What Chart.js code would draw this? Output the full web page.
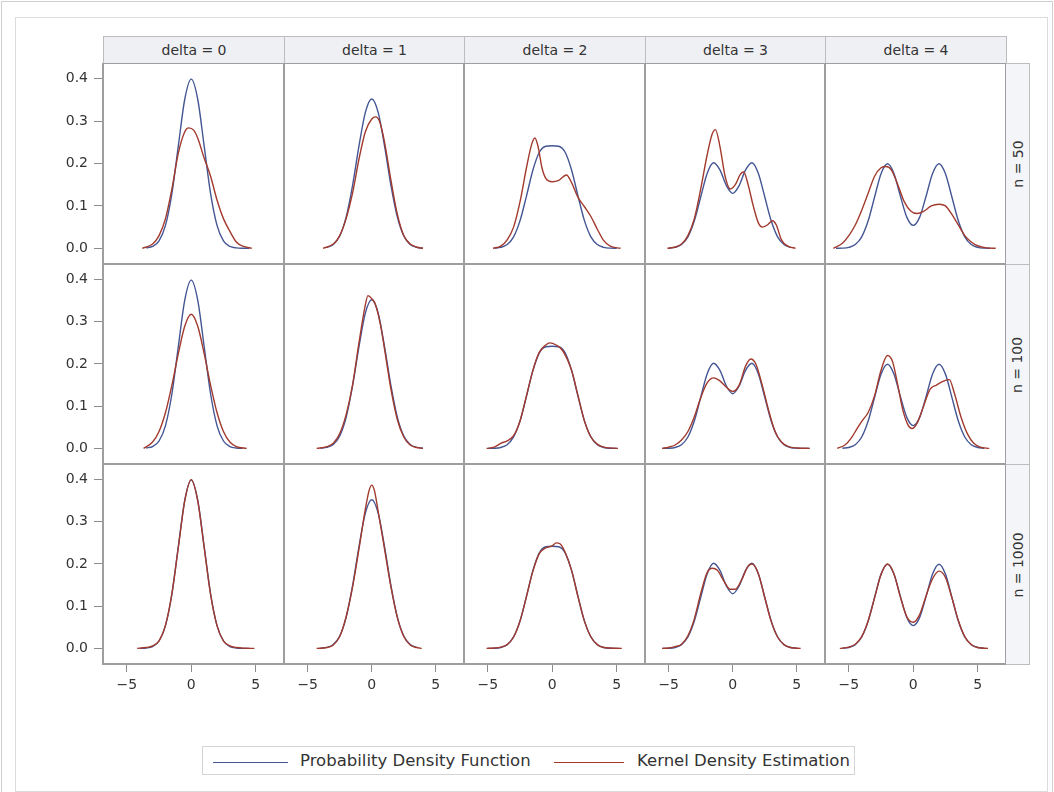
<!DOCTYPE html>
<html>
<head>
<meta charset="utf-8">
<script src="https://cdn.jsdelivr.net/npm/chart.js@4.4.1/dist/chart.umd.min.js"></script>
<style>
  html, body { margin: 0; padding: 0; background: #fff; }
  body { width: 1054px; height: 792px; position: relative; overflow: hidden;
         font-family: "DejaVu Sans", sans-serif; color: #333; }
  .box { position: absolute; box-sizing: border-box; }
  #outer { left: 1px; top: 1px; width: 1052px; height: 800px; border: 1px solid #cfcfcf; }
  #inner { left: 15px; top: 17px; width: 1033px; height: 775px; border: 1px solid #dcdcdc; }
  .strip { position: absolute; box-sizing: border-box; background: #eff0f4;
           border: 1px solid #bdbdbd; font-size: 14px; display: flex;
           align-items: center; justify-content: center; white-space: nowrap; }
  .rowlab { background: #f4f5f8; }
  .rowlab span { display: inline-block; transform: rotate(-90deg); }
  .panel { position: absolute; }
  #legend { position: absolute; left: 202px; top: 746px; width: 653px; height: 29px;
            box-sizing: border-box; border: 1px solid #d4d4d4; background: #fff; }
  .key { position: absolute; top: 15px; height: 0; }
  .ktxt { position: absolute; top: 4px; font-size: 16.5px; line-height: 20px; white-space: nowrap; }
</style>
</head>
<body>
<div id="outer" class="box"></div>
<div id="inner" class="box"></div>
<div id="legend">
  <div class="key" style="left:10px;width:75px;border-top:1.4px solid #445694"></div>
  <div class="ktxt" style="left:97px">Probability Density Function</div>
  <div class="key" style="left:351px;width:70px;border-top:1.4px solid #A23A2E"></div>
  <div class="ktxt" style="left:434px">Kernel Density Estimation</div>
</div>
<script>
// ---- facet levels and axis ticks ----
const deltas = [0, 1, 2, 3, 4];
const sampleSizes = [50, 100, 1000];
const xTickValues = [-5, 0, 5];
const yTickValues = [0, 0.1, 0.2, 0.3, 0.4];

// ---- true mixture density, one curve per delta ----
const pdfGrid = [-6.5, -6, -5.5, -5, -4.5, -4, -3.5, -3, -2.5, -2, -1.5, -1, -0.5, 0,
                 0.5, 1, 1.5, 2, 2.5, 3, 3.5, 4, 4.5, 5, 5.5, 6, 6.5];
const pdfDelta0 = [0, 0, 0, 0, 0, 0.0001, 0.0009, 0.0044, 0.0175, 0.0540, 0.1295, 0.2420, 0.3521, 0.3989,
                   0.3521, 0.2420, 0.1295, 0.0540, 0.0175, 0.0044, 0.0009, 0.0001, 0, 0, 0, 0, 0];
const pdfDelta1 = [0, 0, 0, 0, 0.0001, 0.0004, 0.0023, 0.0092, 0.0292, 0.0735, 0.1480, 0.2408, 0.3205, 0.3521,
                   0.3205, 0.2408, 0.1480, 0.0735, 0.0292, 0.0092, 0.0023, 0.0004, 0.0001, 0, 0, 0, 0];
const pdfDelta2 = [0, 0, 0, 0.0001, 0.0004, 0.0022, 0.0088, 0.0271, 0.0652, 0.1232, 0.1848, 0.2265, 0.2408, 0.2420,
                   0.2408, 0.2265, 0.1848, 0.1232, 0.0652, 0.0271, 0.0088, 0.0022, 0.0004, 0.0001, 0, 0, 0];
const pdfDelta3 = [0, 0, 0.0001, 0.0004, 0.0022, 0.0088, 0.0270, 0.0648, 0.1211, 0.1765, 0.2017, 0.1848, 0.1480, 0.1295,
                   0.1480, 0.1848, 0.2017, 0.1765, 0.1211, 0.0648, 0.0270, 0.0088, 0.0022, 0.0004, 0.0001, 0, 0];
const pdfDelta4 = [0, 0.0001, 0.0004, 0.0022, 0.0088, 0.0270, 0.0648, 0.1210, 0.1760, 0.1995, 0.1765, 0.1232, 0.0735, 0.0540,
                   0.0735, 0.1232, 0.1765, 0.1995, 0.1760, 0.1210, 0.0648, 0.0270, 0.0088, 0.0022, 0.0004, 0.0001, 0];

// ---- kernel density estimates, n = 50 ----
const n50d0x = [-3.8, -3, -2.5, -2, -1.5, -1, -0.5, -0.2, 0.2, 0.5, 1, 1.5, 2, 2.5, 3, 3.5, 4, 4.7];
const n50d0y = [0, 0.01, 0.03, 0.07, 0.14, 0.225, 0.275, 0.284, 0.278, 0.26, 0.213, 0.17, 0.114, 0.07, 0.04, 0.015, 0.005, 0];
const n50d1x = [-3.8, -3, -2.5, -2, -1.5, -1, -0.5, 0, 0.3, 0.6, 1, 1.5, 2, 2.5, 3, 3.5, 4];
const n50d1y = [0, 0.01, 0.03, 0.07, 0.13, 0.21, 0.275, 0.305, 0.31, 0.3, 0.25, 0.16, 0.08, 0.03, 0.01, 0.003, 0];
const n50d2x = [-4.6, -4, -3.5, -3, -2.5, -2, -1.6, -1.35, -1.1, -0.8, -0.5, 0, 0.5, 1.1, 1.5, 2, 2.5, 3, 3.5, 4, 4.5, 5.3];
const n50d2y = [0, 0.005, 0.02, 0.05, 0.11, 0.19, 0.245, 0.26, 0.24, 0.19, 0.165, 0.157, 0.16, 0.173, 0.155, 0.12, 0.098, 0.075, 0.045, 0.018, 0.005, 0];
const n50d3x = [-5.1, -4.5, -4, -3.5, -3, -2.5, -2, -1.6, -1.35, -1, -0.6, -0.2, 0.2, 0.6, 0.85, 1.2, 1.6, 2, 2.3, 2.7, 3.1, 3.4, 3.8, 4.3, 4.9];
const n50d3y = [0, 0.003, 0.01, 0.03, 0.07, 0.14, 0.22, 0.27, 0.28, 0.24, 0.17, 0.14, 0.15, 0.175, 0.18, 0.15, 0.1, 0.06, 0.05, 0.055, 0.065, 0.055, 0.02, 0.005, 0];
const n50d4x = [-6.2, -5.5, -5, -4.5, -4, -3.5, -3, -2.5, -2.1, -1.7, -1.2, -0.7, -0.2, 0.3, 0.8, 1.4, 2, 2.5, 3, 3.5, 4, 4.5, 5, 5.7, 6.4];
const n50d4y = [0, 0.012, 0.03, 0.055, 0.09, 0.13, 0.17, 0.19, 0.193, 0.185, 0.15, 0.11, 0.088, 0.082, 0.087, 0.1, 0.104, 0.1, 0.08, 0.055, 0.03, 0.015, 0.006, 0.001, 0];

// ---- kernel density estimates, n = 100 ----
const n100d0x = [-3.7, -3, -2.5, -2, -1.5, -1, -0.5, 0, 0.5, 1, 1.5, 2, 2.5, 3, 3.5, 4.3];
const n100d0y = [0, 0.015, 0.04, 0.085, 0.15, 0.225, 0.29, 0.318, 0.29, 0.225, 0.15, 0.085, 0.04, 0.015, 0.004, 0];
const n100d1x = [-4.3, -3.5, -3, -2.5, -2, -1.5, -1, -0.5, -0.3, 0, 0.3, 0.7, 1, 1.5, 2, 2.5, 3, 3.5, 4];
const n100d1y = [0, 0.004, 0.012, 0.035, 0.08, 0.15, 0.25, 0.34, 0.362, 0.355, 0.34, 0.29, 0.235, 0.14, 0.068, 0.027, 0.008, 0.002, 0];
const n100d2x = [-5.1, -4.5, -4, -3.5, -3, -2.5, -2, -1.5, -1, -0.5, -0.2, 0.3, 0.8, 1.5, 2, 2.5, 3, 3.5, 4, 5.1];
const n100d2y = [0, 0.003, 0.012, 0.018, 0.03, 0.065, 0.125, 0.185, 0.228, 0.245, 0.25, 0.245, 0.232, 0.185, 0.125, 0.065, 0.027, 0.01, 0.003, 0];
const n100d3x = [-5.5, -5, -4.5, -4, -3.5, -3, -2.5, -2, -1.5, -1, -0.5, 0, 0.5, 1, 1.4, 1.8, 2.3, 2.8, 3.3, 3.8, 4.3, 5, 6];
const n100d3y = [0, 0.003, 0.008, 0.02, 0.04, 0.075, 0.12, 0.155, 0.167, 0.16, 0.145, 0.135, 0.15, 0.195, 0.212, 0.2, 0.15, 0.09, 0.04, 0.015, 0.005, 0.001, 0];
const n100d4x = [-5.9, -5.3, -4.8, -4.3, -3.9, -3.5, -3, -2.5, -2, -1.6, -1.2, -0.8, -0.4, -0.1, 0.3, 0.8, 1.3, 1.8, 2.4, 2.8, 3.2, 3.7, 4.2, 4.7, 5.2, 5.9];
const n100d4y = [0, 0.008, 0.025, 0.05, 0.068, 0.085, 0.125, 0.185, 0.22, 0.205, 0.15, 0.09, 0.055, 0.047, 0.06, 0.1, 0.14, 0.15, 0.16, 0.163, 0.13, 0.075, 0.035, 0.012, 0.003, 0];

// ---- kernel density estimates, n = 1000 ----
const n1000d0x = [-4.2, -3.5, -3, -2.5, -2, -1.5, -1, -0.5, 0, 0.5, 1, 1.5, 2, 2.5, 3, 3.5, 4.2, 4.9];
const n1000d0y = [0, 0.002, 0.006, 0.018, 0.055, 0.13, 0.24, 0.35, 0.4, 0.35, 0.24, 0.128, 0.054, 0.018, 0.006, 0.002, 0.0005, 0];
const n1000d1x = [-4.3, -3.5, -3, -2.5, -2, -1.5, -1, -0.5, -0.2, 0, 0.2, 0.5, 1, 1.5, 2, 2.5, 3, 3.5, 3.9];
const n1000d1y = [0, 0.002, 0.008, 0.028, 0.075, 0.145, 0.235, 0.33, 0.375, 0.387, 0.375, 0.325, 0.235, 0.145, 0.073, 0.028, 0.008, 0.002, 0];
const n1000d2x = [-5.1, -4.5, -4, -3.5, -3, -2.5, -2, -1.5, -1, -0.5, 0, 0.3, 0.6, 1, 1.5, 2, 2.5, 3, 3.5, 4, 5.4];
const n1000d2y = [0, 0.001, 0.003, 0.009, 0.027, 0.065, 0.123, 0.183, 0.225, 0.238, 0.243, 0.25, 0.248, 0.228, 0.185, 0.122, 0.064, 0.027, 0.009, 0.002, 0];
const n1000d3x = [-5.5, -5, -4.5, -4, -3.5, -3, -2.5, -2, -1.6, -1.2, -0.7, -0.2, 0.2, 0.7, 1.2, 1.5, 2, 2.5, 3, 3.5, 4, 4.5, 5.3];
const n1000d3y = [0, 0.001, 0.004, 0.01, 0.03, 0.07, 0.13, 0.18, 0.19, 0.185, 0.16, 0.14, 0.14, 0.163, 0.195, 0.2, 0.177, 0.12, 0.064, 0.027, 0.009, 0.002, 0];
const n1000d4x = [-5.7, -5, -4.5, -4, -3.5, -3, -2.5, -2, -1.5, -1, -0.5, 0, 0.5, 1, 1.5, 2, 2.5, 3, 3.5, 4, 4.5, 5, 5.8];
const n1000d4y = [0, 0.003, 0.01, 0.028, 0.065, 0.12, 0.175, 0.2, 0.177, 0.122, 0.075, 0.062, 0.08, 0.125, 0.165, 0.183, 0.168, 0.12, 0.066, 0.028, 0.009, 0.002, 0];

// ---- lookup tables built from the arrays above ----
const pdfByDelta = [pdfDelta0, pdfDelta1, pdfDelta2, pdfDelta3, pdfDelta4];
const kdeTable = [
  [[n50d0x, n50d0y], [n50d1x, n50d1y], [n50d2x, n50d2y], [n50d3x, n50d3y], [n50d4x, n50d4y]],
  [[n100d0x, n100d0y], [n100d1x, n100d1y], [n100d2x, n100d2y], [n100d3x, n100d3y], [n100d4x, n100d4y]],
  [[n1000d0x, n1000d0y], [n1000d1x, n1000d1y], [n1000d2x, n1000d2y], [n1000d3x, n1000d3y], [n1000d4x, n1000d4y]]
];

// ---- layout ----
const FONT = 'DejaVu Sans';
const PDF_COLOR = '#445694';
const KDE_COLOR = '#A23A2E';
const colEdges = [103, 284, 464, 645, 825, 1006];
const rowEdges = [63, 264, 464, 664];
const LEFT_EXT = 88, BOTTOM_EXT = 44;

// grey frame round each cell's plotting area
const panelFrame = {
  id: 'panelFrame',
  afterDraw(chart) {
    const { ctx, chartArea: a } = chart;
    ctx.save();
    ctx.strokeStyle = '#9e9e9e';
    ctx.lineWidth = 2;
    ctx.strokeRect(a.left, a.top, a.right - a.left, a.bottom - a.top);
    ctx.restore();
  }
};

function addDiv(cls, css, html) {
  const d = document.createElement('div');
  d.className = cls;
  d.style.cssText = css;
  if (html !== undefined) d.innerHTML = html;
  document.body.appendChild(d);
  return d;
}

// column headers
deltas.forEach((d, c) => {
  const L = colEdges[c], R = colEdges[c + 1];
  addDiv('strip', `left:${L}px;top:36px;width:${R - L + 1}px;height:28px;`, `<span>delta = ${d}</span>`);
});
// row headers
sampleSizes.forEach((n, r) => {
  const T = rowEdges[r], B = rowEdges[r + 1];
  addDiv('strip rowlab', `left:1005px;top:${T}px;width:25px;height:${B - T + 1}px;`, `<span>n = ${n}</span>`);
});

const tickFont = { family: FONT, size: 14 };
const fmtX = v => (v < 0 ? '\u2212' + Math.abs(v) : String(v));

sampleSizes.forEach((n, r) => {
  deltas.forEach((d, c) => {
    const isLeft = c === 0, isBottom = r === sampleSizes.length - 1;
    const L = colEdges[c], R = colEdges[c + 1], T = rowEdges[r], B = rowEdges[r + 1];
    const extL = isLeft ? LEFT_EXT : 0, extB = isBottom ? BOTTOM_EXT : 0;
    const w = R - L + extL, h = B - T + extB;

    const wrap = addDiv('panel', `left:${L - extL}px;top:${T}px;width:${w}px;height:${h}px;`);
    const cv = document.createElement('canvas');
    cv.width = w; cv.height = h;
    cv.style.width = w + 'px'; cv.style.height = h + 'px';
    wrap.appendChild(cv);

    const [kx, ky] = kdeTable[r][c];
    const lo = kx[0], hi = kx[kx.length - 1];
    const kdePts = kx.map((x, i) => ({ x, y: ky[i] }));
    const pdfPts = pdfGrid.map((x, i) => ({ x, y: pdfByDelta[c][i] }))
                          .filter(p => p.x >= lo - 1e-9 && p.x <= hi + 1e-9);

    const xScale = {
      type: 'linear', min: -6.85, max: 7.2, display: isBottom,
      afterBuildTicks: s => { s.ticks = xTickValues.map(v => ({ value: v })); },
      grid: { display: true, drawOnChartArea: false, drawTicks: true, tickLength: 8, color: '#8c8c8c', lineWidth: 1 },
      border: { display: false },
      ticks: { padding: 5, color: '#333', font: tickFont, maxRotation: 0, autoSkip: false, callback: fmtX }
    };
    if (isBottom) xScale.afterFit = s => { s.height = extB; s.paddingLeft = 0; s.paddingRight = 0; };

    const yScale = {
      type: 'linear', min: -0.037, max: 0.437, display: isLeft,
      afterBuildTicks: s => { s.ticks = yTickValues.map(v => ({ value: v })); },
      grid: { display: true, drawOnChartArea: false, drawTicks: true, tickLength: 9, color: '#8c8c8c', lineWidth: 1 },
      border: { display: false },
      ticks: { padding: 6, color: '#333', font: tickFont, autoSkip: false, callback: v => Number(v).toFixed(1) }
    };
    if (isLeft) yScale.afterFit = s => { s.width = extL; s.paddingTop = 0; s.paddingBottom = 0; };

    new Chart(cv, {
      type: 'line',
      data: {
        datasets: [
          { label: 'Kernel Density Estimation', data: kdePts, borderColor: KDE_COLOR, borderWidth: 1.4,
            pointRadius: 0, fill: false, cubicInterpolationMode: 'monotone', order: 0 },
          { label: 'Probability Density Function', data: pdfPts, borderColor: PDF_COLOR, borderWidth: 1.4,
            pointRadius: 0, fill: false, cubicInterpolationMode: 'monotone', order: 1 }
        ]
      },
      options: {
        responsive: false, animation: false, devicePixelRatio: 1, events: [],
        layout: { padding: 0 },
        plugins: { legend: { display: false }, tooltip: { enabled: false } },
        scales: { x: xScale, y: yScale }
      },
      plugins: [panelFrame]
    });
  });
});
</script>
</body>
</html>
